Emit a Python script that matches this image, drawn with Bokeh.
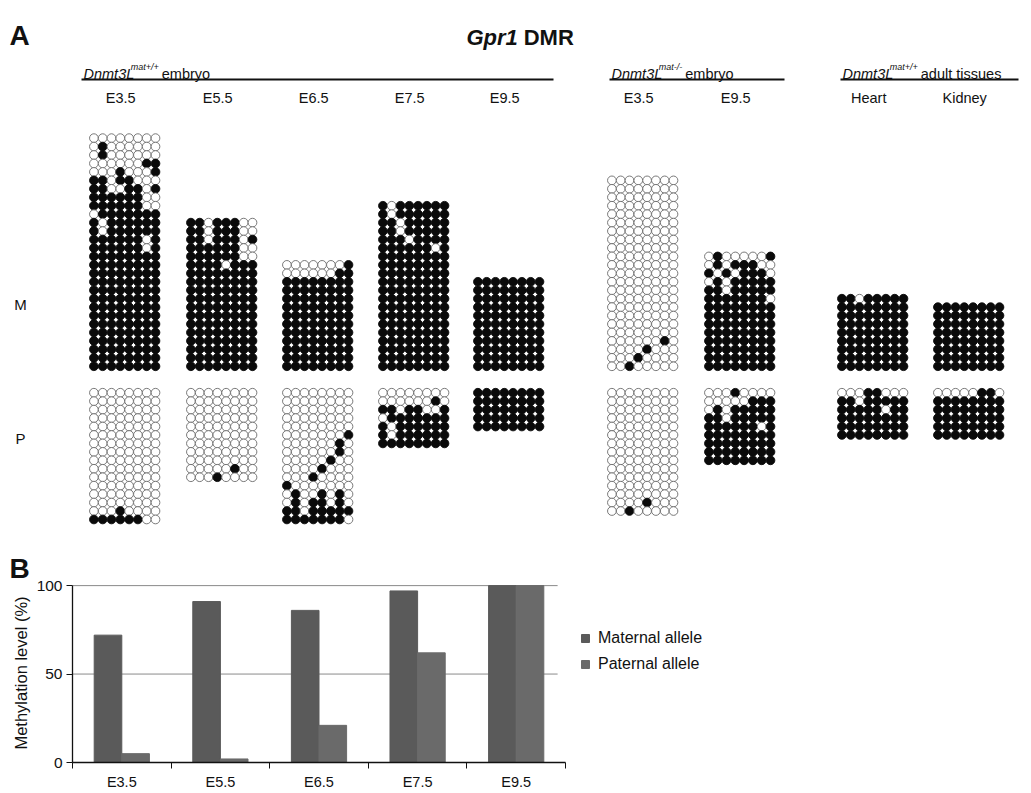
from bokeh.plotting import figure
from bokeh.models import Range1d, FixedTicker, Legend, LegendItem, ColumnDataSource
from bokeh.embed import file_html
from bokeh.resources import INLINE
from bokeh.core.properties import value
import numpy as np

# ---------------- DATA ----------------
# Panel A: bisulfite clones, 1 = methylated CpG (filled), 0 = unmethylated (open)
wt_e35_M = ["00000000", "01000000", "01000000", "00000011", "00010001", "11011000",
            "11001101", "11111100", "11111100", "01111111", "10111111", "10111111",
            "11111101", "11111101"] + ["11111111"] * 14
wt_e55_M = ["11011100", "11011100", "11011101", "11111100", "11111100", "11110111"] + ["11111111"] * 12
wt_e65_M = ["00000001", "00000011"] + ["11111111"] * 11
wt_e75_M = ["10111111", "10111111", "11011111", "11011111", "11101111", "11111101"] + ["11111111"] * 14
wt_e95_M = ["11111111"] * 11
ko_e35_M = ["00000000"] * 19 + ["00000010", "00001000", "00010000", "00100000"]
ko_e95_M = ["01000001", "01011100", "10101110", "01011111", "11011111", "11111110"] + ["11111111"] * 8
heart_M = ["11011111"] + ["11111111"] * 8
kidney_M = ["11111111"] * 8

wt_e35_P = ["00000000"] * 14 + ["00010000", "11111100"]
wt_e55_P = ["00000000"] * 9 + ["00000100", "00010000"]
wt_e65_P = ["00000000"] * 5 + ["00000001", "00000010", "00000010", "00000100", "00001000",
                               "00010000", "10000000", "01001010", "01011010", "11011111", "11111110"]
wt_e75_P = ["00000000", "00000010", "11011001", "01111111", "10111111", "10111111", "11111111"]
wt_e95_P = ["11111111"] * 5
ko_e35_P = ["00000000"] * 13 + ["00001000", "00100000"]
ko_e95_P = ["00010000", "00000111", "01011111", "11011111", "11111101"] + ["11111111"] * 4
heart_P = ["00011000", "11011111", "11111011"] + ["11111111"] * 3
kidney_P = ["00000110"] + ["11111111"] * 5

sample_labels = ["E3.5", "E5.5", "E6.5", "E7.5", "E9.5", "E3.5", "E9.5", "Heart", "Kidney"]
maternal_grids = [wt_e35_M, wt_e55_M, wt_e65_M, wt_e75_M, wt_e95_M, ko_e35_M, ko_e95_M, heart_M, kidney_M]
paternal_grids = [wt_e35_P, wt_e55_P, wt_e65_P, wt_e75_P, wt_e95_P, ko_e35_P, ko_e95_P, heart_P, kidney_P]

# Panel B
stages = ["E3.5", "E5.5", "E6.5", "E7.5", "E9.5"]
maternal_pct = [72, 91, 86, 97, 100]
paternal_pct = [5, 2, 21, 62, 100]
y_ticks = [0, 50, 100]
grid_values = [50, 100]

# ---------------- LAYOUT ----------------
FONT = "Liberation Sans"
INK = "#111111"
grid_left = [89, 186, 282, 378, 473, 607, 704, 837, 933]
DX, DY, DIAM = 8.8, 8.45, 8.7
M_BOTTOM, P_TOP = 370, 388
W_PAGE = 1025
H_A, H_B = 550, 242

ADV = {'D': 722, 'n': 556, 'm': 833, 't': 278, '3': 556, 'L': 556, 'a': 556, '+': 584,
       '/': 278, '-': 333, ' ': 278, 'e': 556, 'b': 556, 'r': 333, 'y': 500, 'o': 556,
       'd': 556, 'u': 556, 'l': 222, 'i': 222, 's': 500, 'G': 778, 'p': 611, '1': 556,
       'M': 833, 'R': 722}


def tw(s, size):
    return sum(ADV.get(ch, 556) for ch in s) / 1000.0 * size


pa = figure(width=W_PAGE, height=H_A, x_range=Range1d(0, W_PAGE), y_range=Range1d(H_A, 0),
            output_backend="svg", toolbar_location=None, min_border=0,
            x_axis_location=None, y_axis_location=None)
pa.grid.visible = False
pa.outline_line_color = None
pa.background_fill_color = "white"

xs, ys, fills, lines = [], [], [], []
for left, grid in zip(grid_left, maternal_grids):
    n = len(grid)
    for r, row in enumerate(grid):
        for c, ch in enumerate(row):
            xs.append(left + DX / 2 + c * DX)
            ys.append(M_BOTTOM - (n - r - 0.5) * DY)
            fills.append("#0a0a0a" if ch == "1" else "white")
            lines.append("#0a0a0a" if ch == "1" else "#6a6a6a")
for left, grid in zip(grid_left, paternal_grids):
    for r, row in enumerate(grid):
        for c, ch in enumerate(row):
            xs.append(left + DX / 2 + c * DX)
            ys.append(P_TOP + (r + 0.5) * DY)
            fills.append("#0a0a0a" if ch == "1" else "white")
            lines.append("#0a0a0a" if ch == "1" else "#6a6a6a")
src = ColumnDataSource(dict(x=xs, y=ys, fill=fills, line=lines))
pa.scatter("x", "y", source=src, marker="circle", size=DIAM, fill_color="fill",
           line_color="line", line_width=0.9)


def txt(p, x, y, s, size, style="normal", align="left", baseline="alphabetic", color=INK):
    p.text(x=[x], y=[y], text=[s], text_font=value(FONT), text_font_size=value(f"{size}px"),
           text_font_style=value(style), text_align=value(align), text_baseline=value(baseline),
           text_color=color)


# Titles
txt(pa, 9, 35, "A", 28, "bold")
g_size = 22
txt(pa, 466, 37, "Gpr1", g_size, "bold italic")
txt(pa, 466 + tw("Gpr1 ", g_size) + 1, 37, "DMR", g_size, "bold")

# Group headers with superscripts
headers = [(83, 553, "mat+/+", "embryo"), (611, 784, "mat-/-", "embryo"),
           (842, 1018, "mat+/+", "adult tissues")]
HS, SS = 14.5, 9
for x0, x1, sup, rest in headers:
    txt(pa, x0, 73, "Dnmt3L", HS, "italic")
    xs0 = x0 + tw("Dnmt3L", HS) - 3.5
    txt(pa, xs0, 66, sup, SS, "italic")
    txt(pa, xs0 + tw(sup, SS) + 3, 73, rest, HS)
    pa.segment(x0=[x0 - 2], y0=[79], x1=[x1], y1=[79], line_color=INK, line_width=2)

# sample labels, centred over each grid
for left, lab in zip(grid_left, sample_labels):
    txt(pa, left + 4 * DX - 4, 97, lab, 14.5, align="center")

txt(pa, 20, 304, "M", 15, align="center", baseline="middle")
txt(pa, 20, 438, "P", 15, align="center", baseline="middle")

# ---------------- PANEL B ----------------
PX_PER_CAT = 98.6
FRAME_L, FRAME_R = 72, 1015
x_end = (FRAME_R - FRAME_L) / PX_PER_CAT
Y_TOP = 101.2
pb = figure(width=W_PAGE, height=H_B, x_range=Range1d(0, x_end), y_range=Range1d(0, Y_TOP),
            output_backend="svg", toolbar_location=None,
            min_border_left=FRAME_L, min_border_right=W_PAGE - FRAME_R,
            min_border_top=583 - H_A, min_border_bottom=H_A + H_B - 770)
pb.outline_line_color = None
pb.background_fill_color = "white"

pb.title.text = "B"
pb.title.align = "left"
pb.title.offset = 9 - FRAME_L
pb.title.standoff = 0
pb.title.text_font = FONT
pb.title.text_font_size = "28px"
pb.title.text_font_style = "bold"
pb.title.text_color = INK

idx = np.arange(len(stages))
W = 0.28
# horizontal reference lines at 50 and 100
pb.segment(x0=[0] * len(grid_values), x1=[4.92] * len(grid_values), y0=grid_values, y1=grid_values,
           line_color="#8a8a8a", line_width=1)
r_mat = pb.vbar(x=idx + 0.5 - W / 2, top=maternal_pct, width=W, bottom=0,
                fill_color="#5a5a5a", line_color="#5a5a5a")
r_pat = pb.vbar(x=idx + 0.5 + W / 2, top=paternal_pct, width=W, bottom=0,
                fill_color="#6a6a6a", line_color="#6a6a6a")

pb.grid.visible = False
pb.yaxis.ticker = FixedTicker(ticks=y_ticks)
pb.yaxis.bounds = (0, 100)

pb.xaxis.ticker = FixedTicker(ticks=list(idx + 0.5), minor_ticks=list(range(len(stages) + 1)))
pb.xaxis.major_label_overrides = {float(i + 0.5): s for i, s in zip(idx, stages)}
pb.xaxis.bounds = (0, len(stages))
pb.xaxis.major_tick_line_color = None
pb.xaxis.major_tick_out = 0
pb.xaxis.major_tick_in = 0
pb.xaxis.minor_tick_line_color = INK
pb.xaxis.minor_tick_in = 0
pb.xaxis.minor_tick_out = 6
pb.xaxis.major_label_standoff = 5

for ax in (pb.xaxis, pb.yaxis):
    ax.axis_line_color = INK
    ax.axis_line_width = 1.3
    ax.major_label_text_font = FONT
    ax.major_label_text_color = INK
pb.xaxis.major_label_text_font_size = "14.5px"
pb.yaxis.major_label_text_font_size = "15.5px"

pb.yaxis.major_tick_in = 0
pb.yaxis.major_tick_out = 6
pb.yaxis.major_tick_line_color = INK
pb.yaxis.minor_tick_line_color = None
pb.yaxis.major_label_standoff = 4
pb.yaxis.axis_label = "Methylation level (%)"
pb.yaxis.axis_label_text_font = FONT
pb.yaxis.axis_label_text_font_size = "16.5px"
pb.yaxis.axis_label_text_font_style = "normal"
pb.yaxis.axis_label_text_color = INK
pb.yaxis.axis_label_standoff = 4

legend = Legend(items=[LegendItem(label="Maternal allele", renderers=[r_mat]),
                       LegendItem(label="Paternal allele", renderers=[r_pat])],
                location=(580 - FRAME_L, 89))
legend.border_line_color = None
legend.background_fill_alpha = 0
legend.padding = 0
legend.margin = 0
legend.glyph_width = 10
legend.glyph_height = 10
legend.label_height = 17
legend.label_standoff = 8
legend.spacing = 8
legend.label_text_font = FONT
legend.label_text_font_size = "16px"
legend.label_text_color = INK
pb.add_layout(legend, "center")

open("out.html", "w").write(file_html([pa, pb], INLINE))
